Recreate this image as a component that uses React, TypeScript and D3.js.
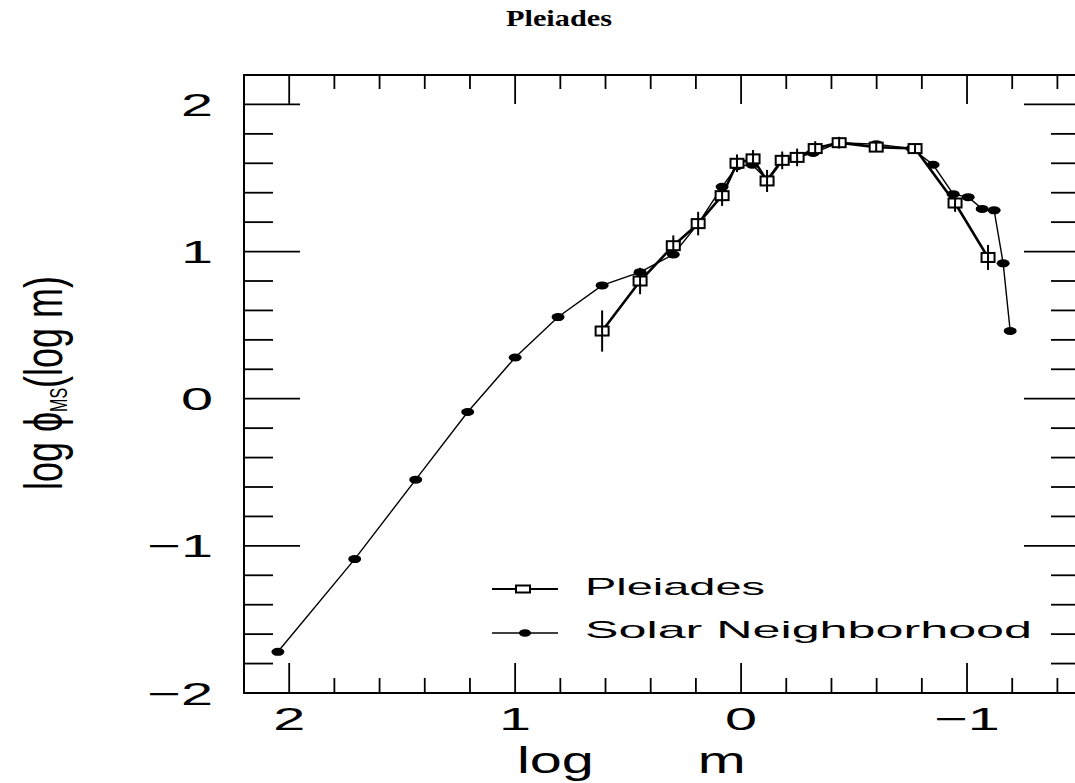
import React from "react";
import * as d3 from "d3";

// ---- data ----
const solarX = [2.05, 1.71, 1.44, 1.21, 1.0, 0.81, 0.615, 0.447, 0.3, 0.19, 0.084, 0.018, -0.049, -0.115, -0.182, -0.248, -0.319, -0.434, -0.598, -0.757, -0.85, -0.939, -1.005, -1.067, -1.12, -1.16, -1.191];
const solarY = [-1.72, -1.09, -0.55, -0.09, 0.28, 0.555, 0.77, 0.86, 0.98, 1.19, 1.44, 1.58, 1.59, 1.49, 1.63, 1.64, 1.67, 1.74, 1.73, 1.7, 1.59, 1.39, 1.37, 1.29, 1.28, 0.92, 0.46];

const pleiadesX = [0.615, 0.447, 0.3, 0.19, 0.084, 0.018, -0.053, -0.115, -0.182, -0.248, -0.328, -0.434, -0.598, -0.77, -0.947, -1.093];
const pleiadesY = [0.46, 0.8, 1.04, 1.19, 1.38, 1.6, 1.63, 1.48, 1.62, 1.64, 1.7, 1.74, 1.71, 1.7, 1.33, 0.96];
const pleiadesErr = [0.14, 0.09, 0.07, 0.08, 0.07, 0.06, 0.06, 0.075, 0.06, 0.06, 0.05, 0.04, 0.03, 0.03, 0.06, 0.085];

const xTickValues = [2, 1, 0, -1];
const xTickLabels = ["2", "1", "0", "\u22121"];
const yTickValues = [2, 1, 0, -1, -2];
const yTickLabels = ["2", "1", "0", "\u22121", "\u22122"];

const titleText = "Pleiades";
const legendLabels = ["Pleiades", "Solar Neighborhood"];

const W = 1075;
const H = 783;

export default function App() {
  const x = d3.scaleLinear().domain([2.2, -1.5]).range([244, 1080]);
  const y = d3.scaleLinear().domain([-2, 2.2]).range([693, 75]);
  const [x0, x1] = x.range();
  const [yb, yt] = y.range();

  const xMinor = d3.range(-7, 12).map((i) => i * 0.2).filter((v) => Math.abs(v - Math.round(v)) > 1e-6 && v < 2.19);
  const yMinor = d3.range(-9, 12).map((i) => i * 0.2).filter((v) => Math.abs(v - Math.round(v)) > 1e-6 && v < 2.19);

  const line = d3.line<[number, number]>().x((d) => x(d[0])).y((d) => y(d[1]));
  const solarPts: [number, number][] = solarX.map((v, i) => [v, solarY[i]]);
  const plPts: [number, number][] = pleiadesX.map((v, i) => [v, pleiadesY[i]]);

  const font = "'Liberation Sans', Arial, sans-serif";
  const sq = { w: 13, h: 9 };

  return (
    <svg width={W} height={H} style={{ position: "absolute", left: 0, top: 0, background: "#fff" }}>
      <rect x={0} y={0} width={W} height={H} fill="#fff" />
      {/* title */}
      <text x={506} y={26} fontFamily="'Liberation Serif', 'Times New Roman', serif" fontWeight="bold" fontSize={24} textLength={106} lengthAdjust="spacingAndGlyphs">
        {titleText}
      </text>

      {/* frame */}
      <rect x={x0} y={yt} width={x1 - x0} height={yb - yt} fill="none" stroke="#000" strokeWidth={2} />

      {/* x ticks */}
      {xTickValues.map((v) => (
        <g key={"xt" + v} stroke="#000" strokeWidth={1.8}>
          <line x1={x(v)} x2={x(v)} y1={yb} y2={yb - 30} />
          <line x1={x(v)} x2={x(v)} y1={yt} y2={yt + 29} />
        </g>
      ))}
      {xMinor.map((v) => (
        <g key={"xm" + v} stroke="#000" strokeWidth={1.8}>
          <line x1={x(v)} x2={x(v)} y1={yb} y2={yb - 15} />
          <line x1={x(v)} x2={x(v)} y1={yt} y2={yt + 14} />
        </g>
      ))}
      {/* y ticks */}
      {yTickValues.map((v) => (
        <g key={"yt" + v} stroke="#000" strokeWidth={1.8}>
          <line x1={x0} x2={x0 + 56} y1={y(v)} y2={y(v)} />
          <line x1={x1} x2={x1 - 56} y1={y(v)} y2={y(v)} />
        </g>
      ))}
      {yMinor.map((v) => (
        <g key={"ym" + v} stroke="#000" strokeWidth={1.8}>
          <line x1={x0} x2={x0 + 29} y1={y(v)} y2={y(v)} />
          <line x1={x1} x2={x1 - 29} y1={y(v)} y2={y(v)} />
        </g>
      ))}

      {/* tick labels */}
      {xTickValues.map((v, i) => (
        <text key={"xl" + v} transform={`translate(${x(v)},730) scale(1.8,1)`} textAnchor="middle" fontFamily={font} fontSize={32}>
          {xTickLabels[i]}
        </text>
      ))}
      {yTickValues.map((v, i) => (
        <text key={"yl" + v} transform={`translate(213,${y(v) + 11.5}) scale(1.8,1)`} textAnchor="end" fontFamily={font} fontSize={32}>
          {yTickLabels[i]}
        </text>
      ))}

      {/* axis titles */}
      <text transform="translate(517,773) scale(1.6,1)" fontFamily={font} fontSize={36}>
        <tspan x={0}>log</tspan>
        <tspan x={113}>m</tspan>
      </text>
      <text transform="translate(62,383) rotate(-90) scale(1,1.5)" textAnchor="middle" fontFamily={font} fontSize={36}>
        log {"\u03D5"}
        <tspan fontSize={16} dy={3}>MS</tspan>
        <tspan dy={-3}>(log m)</tspan>
      </text>

      {/* Solar neighborhood */}
      <path d={line(solarPts) || ""} fill="none" stroke="#000" strokeWidth={1.4} />
      {solarPts.map((d, i) => (
        <ellipse key={"s" + i} cx={x(d[0])} cy={y(d[1])} rx={6.5} ry={4} fill="#000" />
      ))}

      {/* Pleiades */}
      <path d={line(plPts) || ""} fill="none" stroke="#000" strokeWidth={2.6} />
      {plPts.map((d, i) => (
        <rect key={"p" + i} x={x(d[0]) - sq.w / 2} y={y(d[1]) - sq.h / 2} width={sq.w} height={sq.h} fill="#fff" stroke="#000" strokeWidth={2} />
      ))}
      {plPts.map((d, i) => (
        <line key={"e" + i} x1={x(d[0])} x2={x(d[0])} y1={y(d[1] - pleiadesErr[i])} y2={y(d[1] + pleiadesErr[i])} stroke="#000" strokeWidth={2} />
      ))}

      {/* legend */}
      <line x1={492} x2={558} y1={589} y2={589} stroke="#000" strokeWidth={2.2} />
      <rect x={516} y={585.5} width={14} height={7} fill="#fff" stroke="#000" strokeWidth={2} />
      <text x={585} y={595} fontFamily={font} fontSize={24} textLength={180} lengthAdjust="spacingAndGlyphs">
        {legendLabels[0]}
      </text>
      <line x1={492} x2={558} y1={633} y2={633} stroke="#000" strokeWidth={1.6} />
      <ellipse cx={525} cy={633} rx={6} ry={3.8} fill="#000" />
      <text x={585} y={638} fontFamily={font} fontSize={24} textLength={447} lengthAdjust="spacingAndGlyphs">
        {legendLabels[1]}
      </text>
    </svg>
  );
}
